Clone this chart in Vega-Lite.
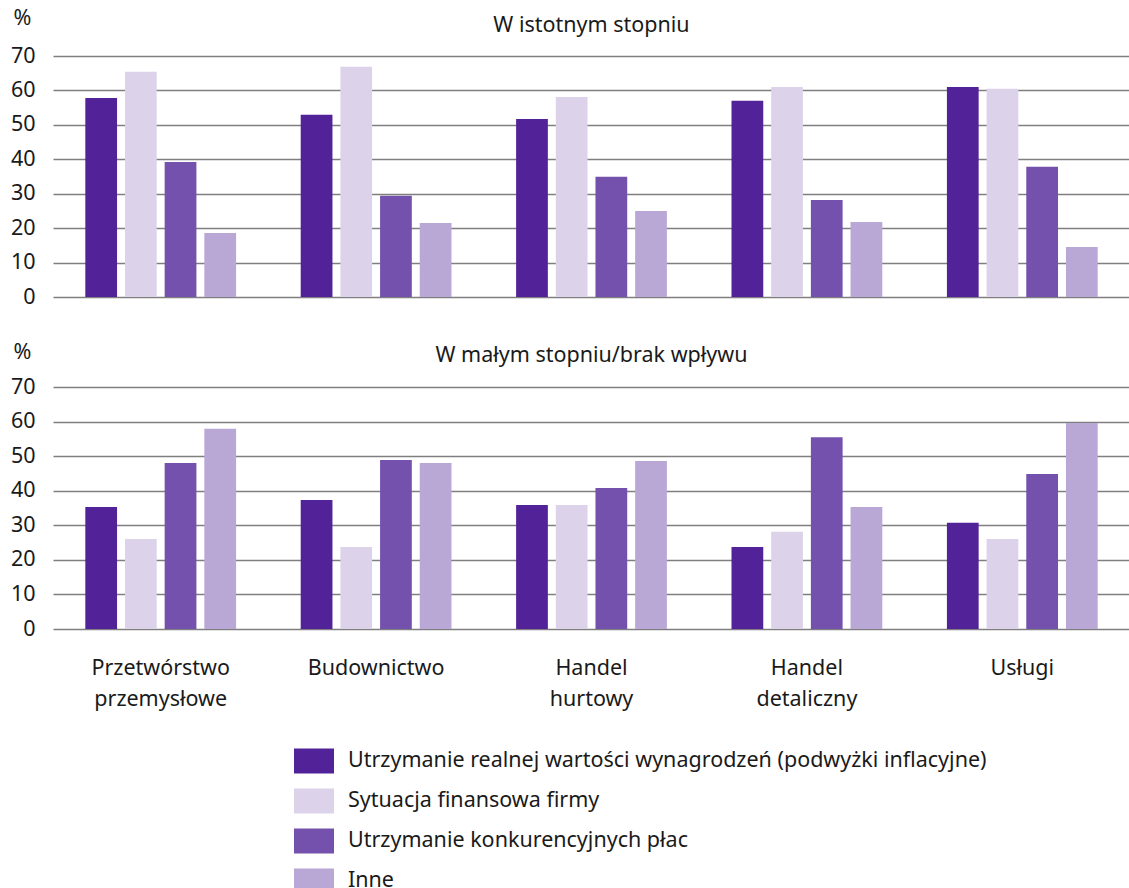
{
  "$schema": "https://vega.github.io/schema/vega-lite/v6.json",
  "padding": {"left": 10, "top": 7, "right": 0, "bottom": 0},
  "background": "white",
  "config": {
    "font": "Noto Sans",
    "view": {"stroke": null},
    "concat": {"spacing": 33},
    "axis": {"labelFont": "Noto Sans", "titleFont": "Noto Sans"},
    "title": {"font": "Noto Sans", "fontSize": 21.5, "fontWeight": "normal", "color": "#1a1a1a"}
  },
  "datasets": {
    "d": [
      {"panel": "top", "category": "Przetwórstwo|przemysłowe", "series": "Utrzymanie realnej wartości wynagrodzeń (podwyżki inflacyjne)", "value": 57.8},
      {"panel": "top", "category": "Przetwórstwo|przemysłowe", "series": "Sytuacja finansowa firmy", "value": 65.4},
      {"panel": "top", "category": "Przetwórstwo|przemysłowe", "series": "Utrzymanie konkurencyjnych płac", "value": 39.2},
      {"panel": "top", "category": "Przetwórstwo|przemysłowe", "series": "Inne", "value": 18.6},
      {"panel": "top", "category": "Budownictwo", "series": "Utrzymanie realnej wartości wynagrodzeń (podwyżki inflacyjne)", "value": 52.9},
      {"panel": "top", "category": "Budownictwo", "series": "Sytuacja finansowa firmy", "value": 66.9},
      {"panel": "top", "category": "Budownictwo", "series": "Utrzymanie konkurencyjnych płac", "value": 29.4},
      {"panel": "top", "category": "Budownictwo", "series": "Inne", "value": 21.5},
      {"panel": "top", "category": "Handel|hurtowy", "series": "Utrzymanie realnej wartości wynagrodzeń (podwyżki inflacyjne)", "value": 51.7},
      {"panel": "top", "category": "Handel|hurtowy", "series": "Sytuacja finansowa firmy", "value": 58.1},
      {"panel": "top", "category": "Handel|hurtowy", "series": "Utrzymanie konkurencyjnych płac", "value": 34.9},
      {"panel": "top", "category": "Handel|hurtowy", "series": "Inne", "value": 25.0},
      {"panel": "top", "category": "Handel|detaliczny", "series": "Utrzymanie realnej wartości wynagrodzeń (podwyżki inflacyjne)", "value": 57.0},
      {"panel": "top", "category": "Handel|detaliczny", "series": "Sytuacja finansowa firmy", "value": 61.0},
      {"panel": "top", "category": "Handel|detaliczny", "series": "Utrzymanie konkurencyjnych płac", "value": 28.2},
      {"panel": "top", "category": "Handel|detaliczny", "series": "Inne", "value": 21.8},
      {"panel": "top", "category": "Usługi", "series": "Utrzymanie realnej wartości wynagrodzeń (podwyżki inflacyjne)", "value": 61.0},
      {"panel": "top", "category": "Usługi", "series": "Sytuacja finansowa firmy", "value": 60.5},
      {"panel": "top", "category": "Usługi", "series": "Utrzymanie konkurencyjnych płac", "value": 37.8},
      {"panel": "top", "category": "Usługi", "series": "Inne", "value": 14.5},
      {"panel": "bottom", "category": "Przetwórstwo|przemysłowe", "series": "Utrzymanie realnej wartości wynagrodzeń (podwyżki inflacyjne)", "value": 35.3},
      {"panel": "bottom", "category": "Przetwórstwo|przemysłowe", "series": "Sytuacja finansowa firmy", "value": 26.0},
      {"panel": "bottom", "category": "Przetwórstwo|przemysłowe", "series": "Utrzymanie konkurencyjnych płac", "value": 48.0},
      {"panel": "bottom", "category": "Przetwórstwo|przemysłowe", "series": "Inne", "value": 57.9},
      {"panel": "bottom", "category": "Budownictwo", "series": "Utrzymanie realnej wartości wynagrodzeń (podwyżki inflacyjne)", "value": 37.3},
      {"panel": "bottom", "category": "Budownictwo", "series": "Sytuacja finansowa firmy", "value": 23.7},
      {"panel": "bottom", "category": "Budownictwo", "series": "Utrzymanie konkurencyjnych płac", "value": 48.9},
      {"panel": "bottom", "category": "Budownictwo", "series": "Inne", "value": 48.0},
      {"panel": "bottom", "category": "Handel|hurtowy", "series": "Utrzymanie realnej wartości wynagrodzeń (podwyżki inflacyjne)", "value": 35.9},
      {"panel": "bottom", "category": "Handel|hurtowy", "series": "Sytuacja finansowa firmy", "value": 35.9},
      {"panel": "bottom", "category": "Handel|hurtowy", "series": "Utrzymanie konkurencyjnych płac", "value": 40.8},
      {"panel": "bottom", "category": "Handel|hurtowy", "series": "Inne", "value": 48.6},
      {"panel": "bottom", "category": "Handel|detaliczny", "series": "Utrzymanie realnej wartości wynagrodzeń (podwyżki inflacyjne)", "value": 23.7},
      {"panel": "bottom", "category": "Handel|detaliczny", "series": "Sytuacja finansowa firmy", "value": 28.1},
      {"panel": "bottom", "category": "Handel|detaliczny", "series": "Utrzymanie konkurencyjnych płac", "value": 55.5},
      {"panel": "bottom", "category": "Handel|detaliczny", "series": "Inne", "value": 35.3},
      {"panel": "bottom", "category": "Usługi", "series": "Utrzymanie realnej wartości wynagrodzeń (podwyżki inflacyjne)", "value": 30.7},
      {"panel": "bottom", "category": "Usługi", "series": "Sytuacja finansowa firmy", "value": 26.0},
      {"panel": "bottom", "category": "Usługi", "series": "Utrzymanie konkurencyjnych płac", "value": 44.8},
      {"panel": "bottom", "category": "Usługi", "series": "Inne", "value": 59.6}
    ]
  },
  "data": {"name": "d"},
  "vconcat": [
    {
      "width": 1077,
      "height": 241,
      "title": {"text": "W istotnym stopniu", "offset": -29},
      "transform": [{"filter": "datum.panel === 'top'"}],
      "mark": {"type": "bar"},
      "encoding": {
        "x": {
          "field": "category", "type": "nominal",
          "sort": ["Przetwórstwo|przemysłowe", "Budownictwo", "Handel|hurtowy", "Handel|detaliczny", "Usługi"],
          "scale": {"paddingInner": 0.3, "paddingOuter": 0.15},
          "axis": null
        },
        "xOffset": {
          "field": "series", "type": "nominal",
          "sort": ["Utrzymanie realnej wartości wynagrodzeń (podwyżki inflacyjne)", "Sytuacja finansowa firmy", "Utrzymanie konkurencyjnych płac", "Inne"],
          "scale": {"paddingInner": 0.2, "paddingOuter": 0}
        },
        "y": {
          "field": "value", "type": "quantitative",
          "scale": {"domain": [0, 70], "nice": false},
          "axis": {
            "title": "%", "titleAngle": 0, "titleAlign": "left", "titleBaseline": "middle",
            "titleX": -40, "titleY": -38, "titleFontSize": 21.5, "titleFontWeight": "normal", "titleColor": "#1a1a1a",
            "values": [0, 10, 20, 30, 40, 50, 60, 70],
            "labelFontSize": 21.5, "labelColor": "#1a1a1a", "labelPadding": 18,
            "ticks": false, "domain": false,
            "grid": true, "gridColor": "#7f7f7f", "gridWidth": 1.5
          }
        },
        "color": {
          "field": "series", "type": "nominal",
          "sort": ["Utrzymanie realnej wartości wynagrodzeń (podwyżki inflacyjne)", "Sytuacja finansowa firmy", "Utrzymanie konkurencyjnych płac", "Inne"],
          "scale": {
            "domain": ["Utrzymanie realnej wartości wynagrodzeń (podwyżki inflacyjne)", "Sytuacja finansowa firmy", "Utrzymanie konkurencyjnych płac", "Inne"],
            "range": ["#522398", "#dcd3ea", "#7551ae", "#b9a7d5"]
          },
          "legend": {
            "title": null,
            "orient": "none",
            "legendX": 241,
            "legendY": 685,
            "symbolType": "M-1,-0.625L1,-0.625L1,0.625L-1,0.625Z",
            "symbolSize": 1600,
            "symbolStrokeWidth": 0,
            "symbolOpacity": 1,
            "labelFontSize": 21.5,
            "labelColor": "#1a1a1a",
            "labelOffset": 14,
            "labelLimit": 900,
            "rowPadding": 7
          }
        }
      }
    },
    {
      "width": 1077,
      "height": 242,
      "title": {"text": "W małym stopniu/brak wpływu", "offset": -25},
      "transform": [{"filter": "datum.panel === 'bottom'"}],
      "mark": {"type": "bar"},
      "encoding": {
        "x": {
          "field": "category", "type": "nominal",
          "sort": ["Przetwórstwo|przemysłowe", "Budownictwo", "Handel|hurtowy", "Handel|detaliczny", "Usługi"],
          "scale": {"paddingInner": 0.3, "paddingOuter": 0.15},
          "axis": {
            "title": null, "labelAngle": 0, "labelExpr": "split(datum.label, '|')",
            "labelFontSize": 21.5, "labelColor": "#1a1a1a", "labelLineHeight": 31,
            "labelPadding": 39, "ticks": false, "domain": false, "labelBaseline": "middle"
          }
        },
        "xOffset": {
          "field": "series", "type": "nominal",
          "sort": ["Utrzymanie realnej wartości wynagrodzeń (podwyżki inflacyjne)", "Sytuacja finansowa firmy", "Utrzymanie konkurencyjnych płac", "Inne"],
          "scale": {"paddingInner": 0.2, "paddingOuter": 0}
        },
        "y": {
          "field": "value", "type": "quantitative",
          "scale": {"domain": [0, 70], "nice": false},
          "axis": {
            "title": "%", "titleAngle": 0, "titleAlign": "left", "titleBaseline": "middle",
            "titleX": -40, "titleY": -35, "titleFontSize": 21.5, "titleFontWeight": "normal", "titleColor": "#1a1a1a",
            "values": [0, 10, 20, 30, 40, 50, 60, 70],
            "labelFontSize": 21.5, "labelColor": "#1a1a1a", "labelPadding": 18,
            "ticks": false, "domain": false,
            "grid": true, "gridColor": "#7f7f7f", "gridWidth": 1.5
          }
        },
        "color": {
          "field": "series", "type": "nominal",
          "sort": ["Utrzymanie realnej wartości wynagrodzeń (podwyżki inflacyjne)", "Sytuacja finansowa firmy", "Utrzymanie konkurencyjnych płac", "Inne"],
          "scale": {
            "domain": ["Utrzymanie realnej wartości wynagrodzeń (podwyżki inflacyjne)", "Sytuacja finansowa firmy", "Utrzymanie konkurencyjnych płac", "Inne"],
            "range": ["#522398", "#dcd3ea", "#7551ae", "#b9a7d5"]
          }
        }
      }
    }
  ],
  "resolve": {"scale": {"color": "shared"}}
}
